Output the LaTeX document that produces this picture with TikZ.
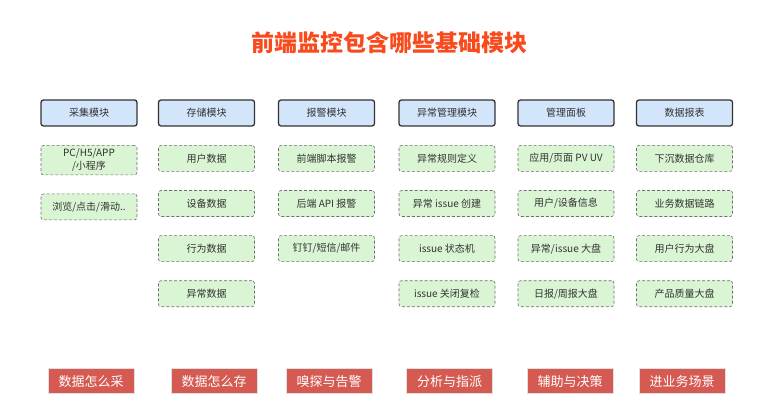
\documentclass[tikz,border=0pt]{standalone}
\usepackage{fontspec}
\setmainfont{Noto Sans CJK SC}
\usepackage{xcolor}
\usepackage{tikz}
\usetikzlibrary{positioning}
\definecolor{TitleC}{HTML}{F84A1C}
\definecolor{HeadF}{HTML}{D3E5FA}
\definecolor{HeadD}{HTML}{333333}
\definecolor{ItemF}{HTML}{D9F5D3}
\definecolor{ItemD}{HTML}{6E6E6E}
\definecolor{TagF}{HTML}{D45A52}
\definecolor{TagD}{HTML}{E0E0E0}

\begin{document}
\begin{tikzpicture}[x=1pt,y=-1pt,
    head/.style={draw=HeadD,fill=HeadF,rounded corners=2.5pt,line width=1.3pt,
      minimum width=96pt,minimum height=26pt,text=black!80,
      font=\fontsize{10}{12}\selectfont},
    item/.style={draw=ItemD,fill=ItemF,rounded corners=2.5pt,line width=0.6pt,
      dash pattern=on 3pt off 2pt,minimum width=96pt,minimum height=26pt,
      align=center,text=black!80,font=\fontsize{10}{13}\selectfont},
    tag/.style={draw=TagD,fill=TagF,line width=1pt,text=white,
      minimum width=86pt,minimum height=25pt,font=\fontsize{13}{15}\selectfont},
    node distance=18.5pt]
  \useasboundingbox (0,0) rectangle (771,419);
  \node[font=\fontsize{23}{26}\selectfont\bfseries,text=TitleC] (title) at (389,43) {前端监控包含哪些基础模块};

  % module headers
  \node[head] (caiji) at (89,113) {采集模块};
  \node[head] (cunchu) at (206.5,113) {存储模块};
  \node[head] (baojing) at (326.5,113) {报警模块};
  \node[head] (yichang) at (447,113) {异常管理模块};
  \node[head] (mianban) at (566,113) {管理面板};
  \node[head] (baobiao) at (684.5,113) {数据报表};

  % module contents
  \node[item, below=of caiji] (caiji1) {PC/H5/APP\\/小程序};
  \node[item, below=of caiji1] (caiji2) {浏览/点击/滑动..};

  \node[item, below=of cunchu] (cunchu1) {用户数据};
  \node[item, below=of cunchu1] (cunchu2) {设备数据};
  \node[item, below=of cunchu2] (cunchu3) {行为数据};
  \node[item, below=of cunchu3] (cunchu4) {异常数据};

  \node[item, below=of baojing] (baojing1) {前端脚本报警};
  \node[item, below=of baojing1] (baojing2) {后端 API 报警};
  \node[item, below=of baojing2] (baojing3) {钉钉/短信/邮件};

  \node[item, below=of yichang] (yichang1) {异常规则定义};
  \node[item, below=of yichang1] (yichang2) {异常 issue 创建};
  \node[item, below=of yichang2] (yichang3) {issue 状态机};
  \node[item, below=of yichang3] (yichang4) {issue 关闭复检};

  \node[item, below=of mianban] (mianban1) {应用/页面 PV UV};
  \node[item, below=of mianban1] (mianban2) {用户/设备信息};
  \node[item, below=of mianban2] (mianban3) {异常/issue 大盘};
  \node[item, below=of mianban3] (mianban4) {日报/周报大盘};

  \node[item, below=of baobiao] (baobiao1) {下沉数据仓库};
  \node[item, below=of baobiao1] (baobiao2) {业务数据链路};
  \node[item, below=of baobiao2] (baobiao3) {用户行为大盘};
  \node[item, below=of baobiao3] (baobiao4) {产品质量大盘};

  % goals
  \node[tag] (tagcai) at (91,381.5) {数据怎么采};
  \node[tag] (tagcun) at (214,381.5) {数据怎么存};
  \node[tag] (tagbao) at (329,381.5) {嗅探与告警};
  \node[tag] (tagyi) at (449.5,381.5) {分析与指派};
  \node[tag] (tagmian) at (570,381.5) {辅助与决策};
  \node[tag] (tagbiao) at (682,381.5) {进业务场景};
\end{tikzpicture}
\end{document}
